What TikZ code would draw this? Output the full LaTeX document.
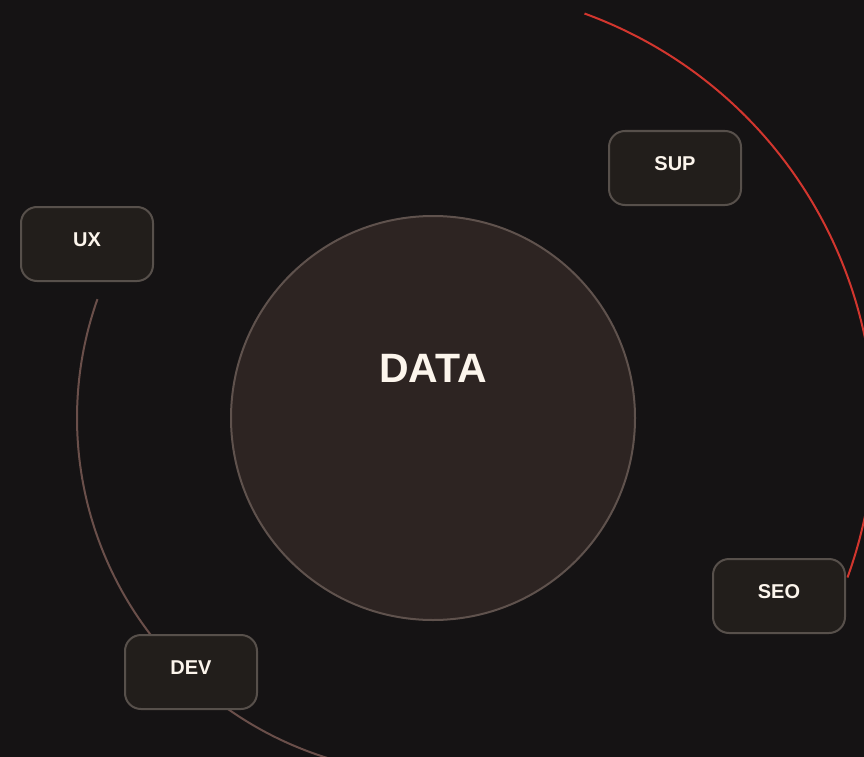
\documentclass[tikz,border=0pt]{standalone}
\usepackage{fontspec}
\setmainfont{Liberation Sans}
\usetikzlibrary{positioning}
\pgfdeclarelayer{background layer}
\pgfsetlayers{background layer,main}
\definecolor{bkg}{HTML}{151314}
\definecolor{datafill}{HTML}{2D2422}
\definecolor{dataline}{HTML}{5F524D}
\definecolor{boxfill}{HTML}{221E1B}
\definecolor{boxline}{HTML}{57504B}
\definecolor{redline}{HTML}{D2362E}
\definecolor{brownline}{HTML}{6A4F4A}
\definecolor{txt}{HTML}{FCF5EC}

\begin{document}
\begin{tikzpicture}[x=1pt,y=1pt]
\tikzstyle{databall}=[circle,draw=dataline,fill=datafill,line width=2pt,minimum size=404pt,inner sep=0pt]
\tikzstyle{datatext}=[text=txt,font=\fontsize{41}{48}\selectfont\bfseries]
\tikzstyle{task}=[draw=boxline,fill=boxfill,line width=2pt,rounded corners=16pt,minimum width=132pt,minimum height=74pt,text=txt,font=\fontsize{20}{24}\selectfont\bfseries,text height=14.5pt,text depth=10pt]
\tikzstyle{orbit}=[line width=2pt]
\useasboundingbox (0,0) rectangle (864,-757);
\node [databall] at (433,-418) (data) {};
\node [datatext] at ([yshift=50pt]data.center) (datalabel) {DATA};
\coordinate [below right=9pt and 1pt of data.center] (hub);
\node [task] at (87,-244) (ux) {UX};
\node [task] at (675,-168) (sup) {SUP};
\node [task] at (779,-596) (seo) {SEO};
\node [task] at (191,-672) (dev) {DEV};
\begin{pgfonlayer}{background layer}
\fill [bkg] (0,0) rectangle (864,-757);
\draw [orbit,draw=redline] ([shift={(70:440)}]hub) arc (70:-20:440);
\draw [orbit,draw=brownline] ([shift={(160.5:356)}]data.center) arc (160.5:260:356);
\end{pgfonlayer}
\end{tikzpicture}
\end{document}
